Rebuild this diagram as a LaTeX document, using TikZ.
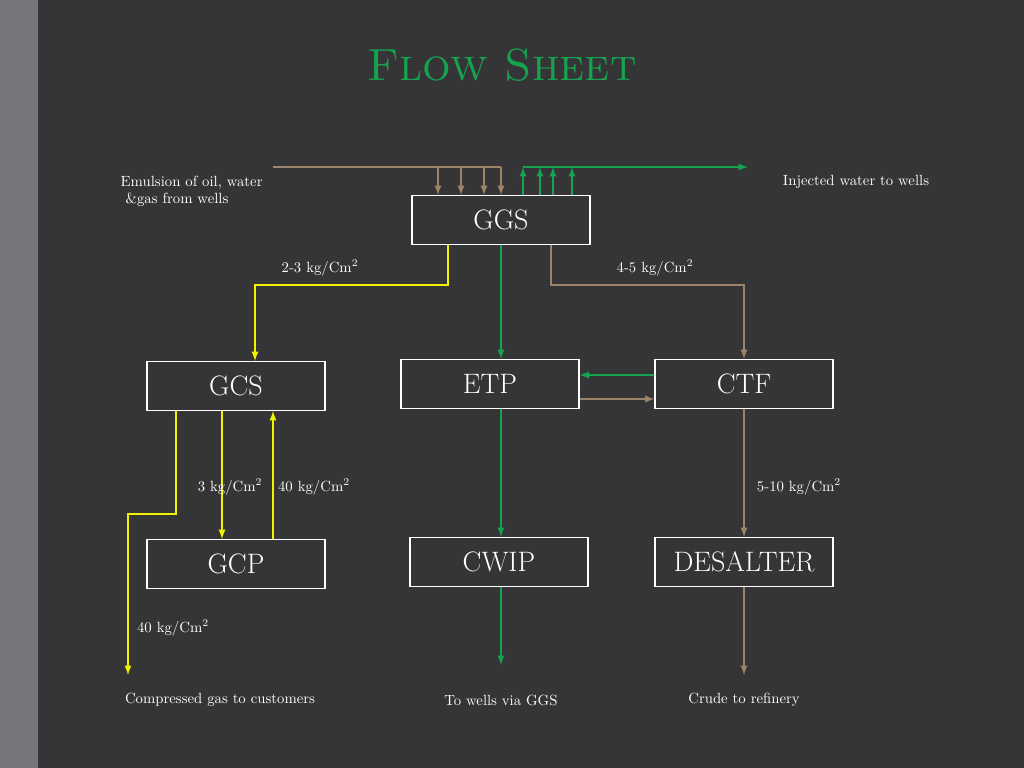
\documentclass[tikz,border=0pt]{standalone}
\usepackage{tikz}
\usetikzlibrary{calc}
\usetikzlibrary{arrows}
\usetikzlibrary{positioning}
\definecolor{bg}{HTML}{353537}
\definecolor{strip}{HTML}{77777B}
\definecolor{flowbrown}{HTML}{9C8468}
\definecolor{flowgreen}{HTML}{16A34F}
\definecolor{flowyellow}{HTML}{F2F200}
\tikzset{
unit/.style = {rectangle, draw = white, thick, minimum width = 4.45cm, minimum height = 1.22cm, text = white, font = \fontsize{20}{22}\selectfont},
lbl/.style = {text = white, font = \fontsize{10.5}{12.5}\selectfont, inner sep = 1pt},
oil/.style = {draw = flowbrown, line width = 1.3pt},
water/.style = {draw = flowgreen, line width = 1.3pt},
gas/.style = {draw = flowyellow, line width = 1.3pt}
}
\begin{document}
\begin{tikzpicture}[x=0.025cm, y=-0.025cm, >=latex]
\fill[bg] (0,0) rectangle (1024,768);
\fill[strip] (0,0) rectangle (38,768);
\useasboundingbox (0,0) rectangle (1024,768);
\node[text = flowgreen, font = \fontsize{32}{34}\selectfont\scshape] (title) at (502,65) {Flow Sheet};
\node[unit] (ggs) at (501,220) {GGS};
\node[unit] (gcs) at (236,386) {GCS};
\node[unit] (etp) at (490,384) {ETP};
\node[unit] (ctf) at (744,384) {CTF};
\node[unit] (gcp) at (236,564) {GCP};
\node[unit] (cwip) at (499,562) {CWIP};
\node[unit] (desalter) at (744,562) {DESALTER};
\node[lbl, align = left, anchor = north west] (emulsion) at (119,174) {Emulsion of oil, water\\ \ \&gas from wells};
\node[lbl] (injected) at (856,182) {Injected water to wells};
\node[lbl] (customers) at (220,700) {Compressed gas to customers};
\node[lbl] (wells) at (501,700) {To wells via GGS};
\node[lbl] (refinery) at (744,700) {Crude to refinery};
\coordinate (feed) at (273,167);
\coordinate (out) at (748,167);
\coordinate (gasend) at (128,675);
\coordinate (waterend) at (501,665);
\coordinate (crudeend) at (744,675);
% inlet and outlet headers of GGS
\draw[oil] (feed) -- (501,167);
\foreach \x in {438,461,484,501}
  \draw[oil,->] (\x,167) -- (\x,0 |- ggs.north);
\draw[water,->] (523,167) -- (out);
\foreach \x in {523,540,553,572}
  \draw[water,->] (\x,0 |- ggs.north) -- (\x,167);
% from GGS
\draw[gas,->] (448,0 |- ggs.south) |- (255,285) -- (255,0 |- gcs.north);
\draw[water,->] (501,0 |- ggs.south) -- (501,0 |- etp.north);
\draw[oil,->] (551,0 |- ggs.south) |- (744,285) -- (ctf.north);
\node[lbl] (p23) at (320,268) {2-3 kg/Cm\textsuperscript{2}};
\node[lbl] (p45) at (655,268) {4-5 kg/Cm\textsuperscript{2}};
% ETP and CTF
\draw[water,->] (ctf.west |- 0,375) -- (etp.east |- 0,375);
\draw[oil,->] (etp.east |- 0,399) -- (ctf.west |- 0,399);
% gas section
\draw[gas,->] (176,0 |- gcs.south) |- (128,514) -- (gasend);
\draw[gas,->] (222,0 |- gcs.south) -- (222,0 |- gcp.north);
\draw[gas,->] (273,0 |- gcp.north) -- (273,0 |- gcs.south);
\node[lbl] (p3) at (230,487) {3 kg/Cm\textsuperscript{2}};
\node[lbl] (p40a) at (314,487) {40 kg/Cm\textsuperscript{2}};
\node[lbl] (p40b) at (173,628) {40 kg/Cm\textsuperscript{2}};
% water and crude
\draw[water,->] (501,0 |- etp.south) -- (501,0 |- cwip.north);
\draw[water,->] (501,0 |- cwip.south) -- (waterend);
\draw[oil,->] (ctf.south) -- (desalter.north);
\draw[oil,->] (desalter.south) -- (crudeend);
\node[lbl] (p510) at (799,487) {5-10 kg/Cm\textsuperscript{2}};
\end{tikzpicture}
\end{document}
